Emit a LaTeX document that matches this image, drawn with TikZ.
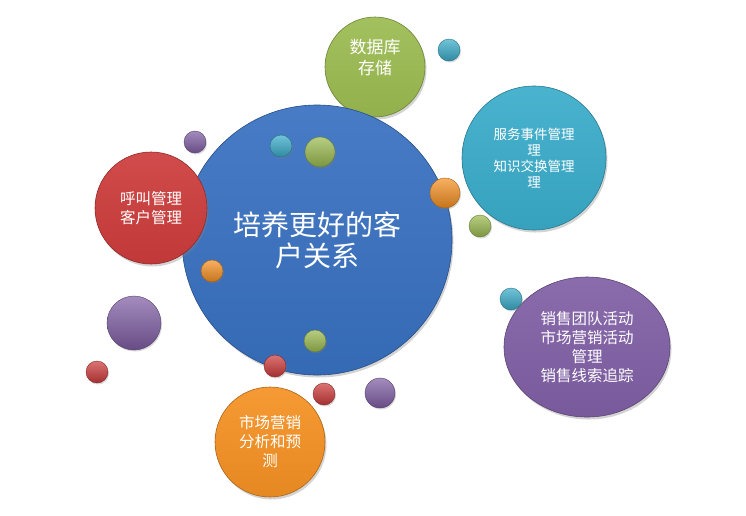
\documentclass[tikz,border=0pt]{standalone}
\usepackage{fontspec}
\setmainfont{Noto Sans CJK SC}
\usetikzlibrary{shapes.geometric, shadows}

\definecolor{crmblue}{RGB}{56,112,192}
\definecolor{dbgreen}{RGB}{155,187,80}
\definecolor{svccyan}{RGB}{58,172,202}
\definecolor{callred}{RGB}{205,60,60}
\definecolor{salespurple}{RGB}{128,95,165}
\definecolor{mktorange}{RGB}{245,145,35}

\tikzset{
    bubble/.style = {circle, inner sep = 0pt, align = center, text = white,
        draw = #1!70!black, line width = 0.6pt,
        top color = #1!92!white, bottom color = #1!94!black,
        drop shadow = {opacity = 0.35, shadow xshift = 1.5pt, shadow yshift = -2.5pt},
        font = \fontsize{15.5}{19}\selectfont},
    ball/.style = {top color = #1!72!white, middle color = #1, bottom color = #1!80!black,
        draw = #1!65!black, line width = 0.4pt,
        drop shadow = {opacity = 0.3, shadow xshift = 1pt, shadow yshift = -1.5pt}}
}

\begin{document}
\begin{tikzpicture}[x = 1pt, y = -1pt]

        % Fixing the page size.
        \useasboundingbox (0, 0) rectangle (746, 515);

        % Outer bubbles lying behind the centre.
        \node[bubble = dbgreen, minimum size = 100, font = \fontsize{17}{21}\selectfont]
            (db) at (375, 67) {数据库\\存储\\\mbox{}};
        \node[bubble = svccyan, minimum size = 144, font = \fontsize{13.5}{16}\selectfont]
            (service) at (534, 158) {服务事件管理\\理\\知识交换管理\\理};
        \node[bubble = salespurple, ellipse, minimum width = 166, minimum height = 140]
            (sales) at (587, 347) {销售团队活动\\市场营销活动\\管理\\销售线索追踪};
        \node[bubble = mktorange, minimum size = 110]
            (market) at (270, 442) {市场营销\\分析和预\\测};

        % The centre bubble.
        \node[bubble = crmblue, minimum size = 270, font = \fontsize{28}{31}\selectfont]
            (crm) at (317, 240) {培养更好的客\\户关系};

        % Bubble in front of the centre.
        \node[bubble = callred, minimum size = 112]
            (call) at (151, 208) {呼叫管理\\客户管理};

        % Small balls scattered around.
        \foreach \x/\y/\r/\c in {449/50/11/svccyan, 195/142/11/salespurple,
                281/146/11/svccyan, 320/152/15/dbgreen, 445/193/15/mktorange,
                480/226/11/dbgreen, 212/271/11/mktorange, 511/299/11/svccyan,
                134/323/27/salespurple, 315/341/11/dbgreen, 275/366/11/callred,
                97/372/11/callred, 324/394/11/callred, 380/393/15/salespurple}
            \path[ball = \c] (\x, \y) circle (\r);
    \end{tikzpicture}
\end{document}
